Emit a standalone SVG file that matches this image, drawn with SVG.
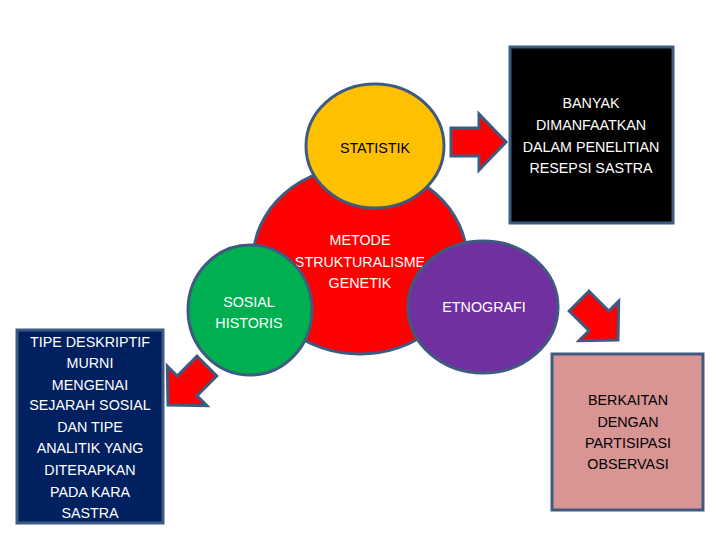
<svg xmlns="http://www.w3.org/2000/svg" width="720" height="540" viewBox="0 0 720 540">
<defs>
<style>
.node{stroke:#3f5a80;stroke-width:3}
.arrow{fill:#ff0000;stroke:#3f5a80;stroke-width:3;stroke-linejoin:miter}
text{font-family:"Liberation Sans",Arial,sans-serif;font-size:14.3px;text-anchor:middle}
.w{fill:#ffffff}
.k{fill:#000000}
</style>
<path id="arr" d="M-55,-14 L-27,-14 L-27,-28 L0,0 L-27,28 L-27,14 L-55,14 Z"/>
</defs>
<rect width="720" height="540" fill="#ffffff"/>
<g id="connectors">
<use href="#arr" class="arrow" transform="translate(506,142)"/>
<use href="#arr" class="arrow" transform="translate(168,405) rotate(135)"/>
<use href="#arr" class="arrow" transform="translate(618,340) rotate(45)"/>
</g>
<g id="banyak">
<rect class="node" x="510" y="47" width="163" height="176" fill="#000000"/>
<text class="w" x="591" y="108">BANYAK</text>
<text class="w" x="591" y="130">DIMANFAATKAN</text>
<text class="w" x="591" y="152">DALAM PENELITIAN</text>
<text class="w" x="591" y="173">RESEPSI SASTRA</text>
</g>
<g id="tipe">
<rect class="node" x="17" y="330" width="146" height="193" fill="#002060"/>
<text class="w" x="90" y="347">TIPE DESKRIPTIF</text>
<text class="w" x="90" y="368">MURNI</text>
<text class="w" x="90" y="390">MENGENAI</text>
<text class="w" x="90" y="410">SEJARAH SOSIAL</text>
<text class="w" x="90" y="432">DAN TIPE</text>
<text class="w" x="90" y="453">ANALITIK YANG</text>
<text class="w" x="90" y="475">DITERAPKAN</text>
<text class="w" x="90" y="497">PADA KARA</text>
<text class="w" x="90" y="518">SASTRA</text>
</g>
<g id="berkaitan">
<rect class="node" x="552" y="354" width="151" height="156" fill="#d99594"/>
<text class="k" x="628" y="405">BERKAITAN</text>
<text class="k" x="628" y="427">DENGAN</text>
<text class="k" x="628" y="448">PARTISIPASI</text>
<text class="k" x="628" y="469">OBSERVASI</text>
</g>
<g id="metode">
<ellipse class="node" cx="360" cy="260" rx="107" ry="94" fill="#ff0000"/>
<text class="w" x="360" y="245">METODE</text>
<text class="w" x="360" y="267">STRUKTURALISME</text>
<text class="w" x="360" y="288">GENETIK</text>
</g>
<g id="statistik">
<ellipse class="node" cx="375" cy="146" rx="69" ry="62" fill="#ffc000"/>
<text class="k" x="375" y="153">STATISTIK</text>
</g>
<g id="sosial">
<ellipse class="node" cx="250" cy="310" rx="62" ry="65" fill="#00b050"/>
<text class="w" x="249" y="307">SOSIAL</text>
<text class="w" x="249" y="328">HISTORIS</text>
</g>
<g id="etnografi">
<ellipse class="node" cx="483" cy="307" rx="75" ry="66" fill="#7030a0"/>
<text class="w" x="484" y="312">ETNOGRAFI</text>
</g>
</svg>
